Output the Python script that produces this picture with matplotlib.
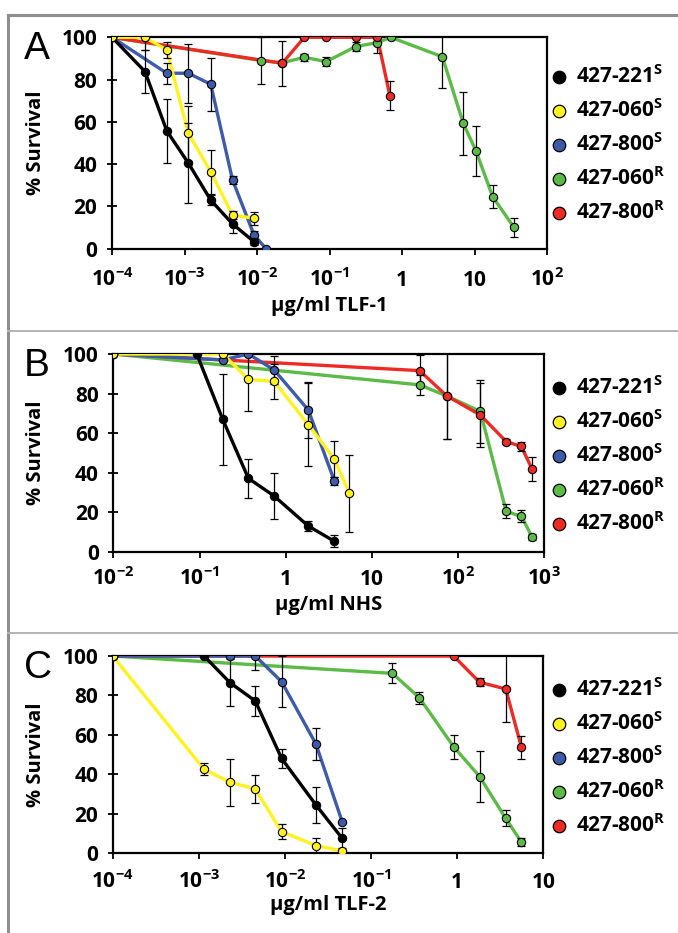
import matplotlib.pyplot as plt
from matplotlib.lines import Line2D

plt.rcParams['font.family'] = ['Open Sans', 'DejaVu Sans']
plt.rcParams['font.weight'] = 'bold'
plt.rcParams['mathtext.fontset'] = 'custom'
plt.rcParams['mathtext.bf'] = 'Open Sans:bold'
plt.rcParams['mathtext.rm'] = 'Open Sans:bold'
plt.rcParams['mathtext.it'] = 'Open Sans:bold'

W, H = 678, 933

names = ['427-221', '427-060', '427-800', '427-060', '427-800']
sups = ['S', 'S', 'S', 'R', 'R']
colors = ['#000000', '#fff21f', '#3d5ba9', '#5cba47', '#ee2a24']

# panel A : TLF-1
a_221_x = [1e-4, 2.85e-4, 5.7e-4, 1.13e-3, 2.3e-3, 4.6e-3, 9.1e-3]
a_221_y = [100, 83.8, 55.7, 40.5, 23, 11.7, 3.3]
a_221_e = [0, 10, 15, 19, 2.5, 4.5, 1.5]
a_060s_x = [1e-4, 2.85e-4, 5.7e-4, 1.13e-3, 2.3e-3, 4.6e-3, 9.1e-3]
a_060s_y = [100, 100, 94, 54.6, 36.4, 15.9, 14.4]
a_060s_e = [0, 6, 4, 13, 10.5, 2, 3]
a_800s_x = [1e-4, 5.7e-4, 1.13e-3, 2.3e-3, 4.6e-3, 9.1e-3, 1.33e-2]
a_800s_y = [100, 83, 83, 77.8, 32.5, 6.5, 0]
a_800s_e = [0, 5, 14, 12.5, 2, 2, 0]
a_060r_x = [1e-4, 1.14e-2, 2.23e-2, 4.5e-2, 9e-2, 0.23, 0.457, 0.70, 3.6, 7.0, 10.5, 17.8, 35]
a_060r_y = [100, 89, 88, 90.5, 88.5, 95.6, 97.5, 100, 90.8, 59.3, 46.2, 24.6, 10.1]
a_060r_e = [0, 11, 0, 1.5, 2, 2, 5, 0, 14.6, 15, 12, 5.5, 4.4]
a_800r_x = [1e-4, 2.23e-2, 4.5e-2, 9e-2, 0.23, 0.457, 0.68]
a_800r_y = [100, 87.7, 100, 100, 100, 100, 72.4]
a_800r_e = [0, 10.7, 0, 0, 0, 0, 7]

# panel B : NHS
b_221_x = [0.093, 0.186, 0.369, 0.733, 1.83, 3.67]
b_221_y = [100, 67, 37.2, 28.3, 13.1, 5.4]
b_221_e = [0, 23, 10, 11.7, 2.5, 3]
b_060s_x = [0.01, 0.186, 0.369, 0.733, 1.83, 3.67, 5.48]
b_060s_y = [100, 100, 87.2, 86.2, 64.3, 47, 29.6]
b_060s_e = [0, 0, 16, 9, 21, 9, 19.6]
b_800s_x = [0.01, 0.186, 0.369, 0.733, 1.83, 3.67]
b_800s_y = [100, 97, 100, 92, 71.7, 35.9]
b_800s_e = [0, 0, 0, 7, 14, 2]
b_060r_x = [0.01, 35.8, 74, 181, 361, 542, 723]
b_060r_y = [100, 84.4, 78.8, 71, 20.5, 18, 7.6]
b_060r_e = [0, 5, 21.5, 16, 3.5, 3, 1.5]
b_800r_x = [0.01, 35.8, 74, 181, 361, 542, 723]
b_800r_y = [100, 91.6, 78.8, 69.2, 55.8, 53.3, 41.8]
b_800r_e = [0, 8, 21.5, 16, 1.5, 2.5, 6]

# panel C : TLF-2
c_221_x = [1.15e-3, 2.3e-3, 4.53e-3, 9.14e-3, 2.29e-2, 4.62e-2]
c_221_y = [100, 86.5, 77.2, 48.1, 24.5, 7.6]
c_221_e = [0, 12, 7.5, 5, 9, 5]
c_060s_x = [1e-4, 1.15e-3, 2.3e-3, 4.53e-3, 9.14e-3, 2.29e-2, 4.62e-2]
c_060s_y = [100, 42.6, 36, 32.6, 11, 3.9, 1.2]
c_060s_e = [0, 3, 12, 7, 4, 4, 0]
c_800s_x = [1e-4, 2.3e-3, 4.53e-3, 9.14e-3, 2.29e-2, 4.62e-2]
c_800s_y = [100, 100, 100, 87, 55.4, 16]
c_800s_e = [0, 0, 7, 13, 8, 0]
c_060r_x = [1e-4, 0.177, 0.363, 0.91, 1.82, 3.66, 5.58]
c_060r_y = [100, 91.2, 78.9, 54, 38.9, 17.7, 5.6]
c_060r_e = [0, 5, 3, 6, 13, 4, 2]
c_800r_x = [1e-4, 0.91, 1.82, 3.66, 5.58]
c_800r_y = [100, 100, 86.7, 83.3, 53.7]
c_800r_e = [0, 0, 2, 17, 6]

a_ticks = [1e-4, 1e-3, 1e-2, 1e-1, 1, 10, 100]
a_labels = [r'$\mathbf{10^{-4}}$', r'$\mathbf{10^{-3}}$', r'$\mathbf{10^{-2}}$',
            r'$\mathbf{10^{-1}}$', '1', '10', r'$\mathbf{10^{2}}$']
b_ticks = [1e-2, 1e-1, 1, 10, 100, 1000]
b_labels = [r'$\mathbf{10^{-2}}$', r'$\mathbf{10^{-1}}$', '1', '10',
            r'$\mathbf{10^{2}}$', r'$\mathbf{10^{3}}$']
c_ticks = [1e-4, 1e-3, 1e-2, 1e-1, 1, 10]
c_labels = [r'$\mathbf{10^{-4}}$', r'$\mathbf{10^{-3}}$', r'$\mathbf{10^{-2}}$',
            r'$\mathbf{10^{-1}}$', '1', '10']


def fx(px):
    return px / W


def fy(py):
    return 1 - py / H


fig = plt.figure(figsize=(W / 100, H / 100), dpi=100)

# grey frame around the panels
fig.add_artist(Line2D([fx(8), 1], [fy(15), fy(15)], color='#8e8e8e', lw=2.2))
fig.add_artist(Line2D([fx(8), fx(8)], [fy(15), 0], color='#8e8e8e', lw=2.2))
for yy in [331, 633]:
    fig.add_artist(Line2D([fx(8), 1], [fy(yy), fy(yy)], color='#b4b4b4', lw=1.4))


def panel(box, series, ticks, labels, xlabel, letter, lab_off, xl_off, leg_top):
    left, top, right, bottom = box
    ax = fig.add_axes([fx(left), fy(bottom), fx(right - left), (bottom - top) / H])
    order = [3, 4, 2, 0, 1]  # green, red, blue, black, yellow
    for i in order:
        x, y, e = series[i]
        ax.plot(x, y, color=colors[i], lw=2.4, zorder=3)
    for i in order:
        x, y, e = series[i]
        ax.errorbar(x, y, yerr=e, fmt='none', ecolor='black', elinewidth=0.9,
                    capsize=2.6, capthick=0.9, zorder=4)
    for i in order:
        x, y, e = series[i]
        ax.plot(x, y, ls='none', marker='o', ms=6, mfc=colors[i], mec='black',
                mew=0.8, zorder=5)
    ax.set_xscale('log')
    ax.set_xlim(ticks[0], ticks[-1])
    ax.set_ylim(0, 100)
    ax.set_yticks([0, 20, 40, 60, 80, 100])
    ax.set_xticks(ticks)
    ax.set_xticklabels(labels)
    ax.minorticks_off()
    for s in ax.spines.values():
        s.set_linewidth(1.6)
    ax.tick_params(axis='y', direction='inout', length=7, width=1.3, pad=7, labelsize=15)
    ax.tick_params(axis='x', direction='out', length=4, width=1.3,
                   pad=lab_off * 0.72 - 4, labelsize=15)
    for t in ax.get_xticklabels():
        t.set_verticalalignment('baseline')

    cx = (left + right) / 2
    fig.text(fx(cx), fy(bottom + xl_off), xlabel, ha='center', va='center', fontsize=14.5)
    fig.text(fx(36), fy((top + bottom) / 2), '% Survival', rotation=90,
             ha='center', va='center', fontsize=14.5)
    fig.text(fx(24), fy(top - 6), letter, ha='left', va='top', fontsize=28,
             fontweight='normal', family=['Liberation Sans', 'DejaVu Sans'])

    for i in range(5):
        yy = leg_top + 34 * i
        fig.add_artist(Line2D([fx(559)], [fy(yy)], ls='none', marker='o', ms=9,
                              mfc=colors[i], mec='black', mew=0.9))
        fig.text(fx(576), fy(yy), names[i] + r'$^{\mathbf{' + sups[i] + '}}$',
                 ha='left', va='center', fontsize=15)
    return ax


panel((112, 37.3, 547, 248.7),
      [(a_221_x, a_221_y, a_221_e), (a_060s_x, a_060s_y, a_060s_e),
       (a_800s_x, a_800s_y, a_800s_e), (a_060r_x, a_060r_y, a_060r_e),
       (a_800r_x, a_800r_y, a_800r_e)],
      a_ticks, a_labels, 'µg/ml TLF-1', 'A', 37, 57, 77)

panel((113.3, 354, 544.3, 552),
      [(b_221_x, b_221_y, b_221_e), (b_060s_x, b_060s_y, b_060s_e),
       (b_800s_x, b_800s_y, b_800s_e), (b_060r_x, b_060r_y, b_060r_e),
       (b_800r_x, b_800r_y, b_800r_e)],
      b_ticks, b_labels, 'µg/ml NHS', 'B', 33, 53, 388)

panel((112.7, 656, 543.3, 853.3),
      [(c_221_x, c_221_y, c_221_e), (c_060s_x, c_060s_y, c_060s_e),
       (c_800s_x, c_800s_y, c_800s_e), (c_060r_x, c_060r_y, c_060r_e),
       (c_800r_x, c_800r_y, c_800r_e)],
      c_ticks, c_labels, 'µg/ml TLF-2', 'C', 35, 52, 690)

fig.savefig('out.png', dpi=100)
